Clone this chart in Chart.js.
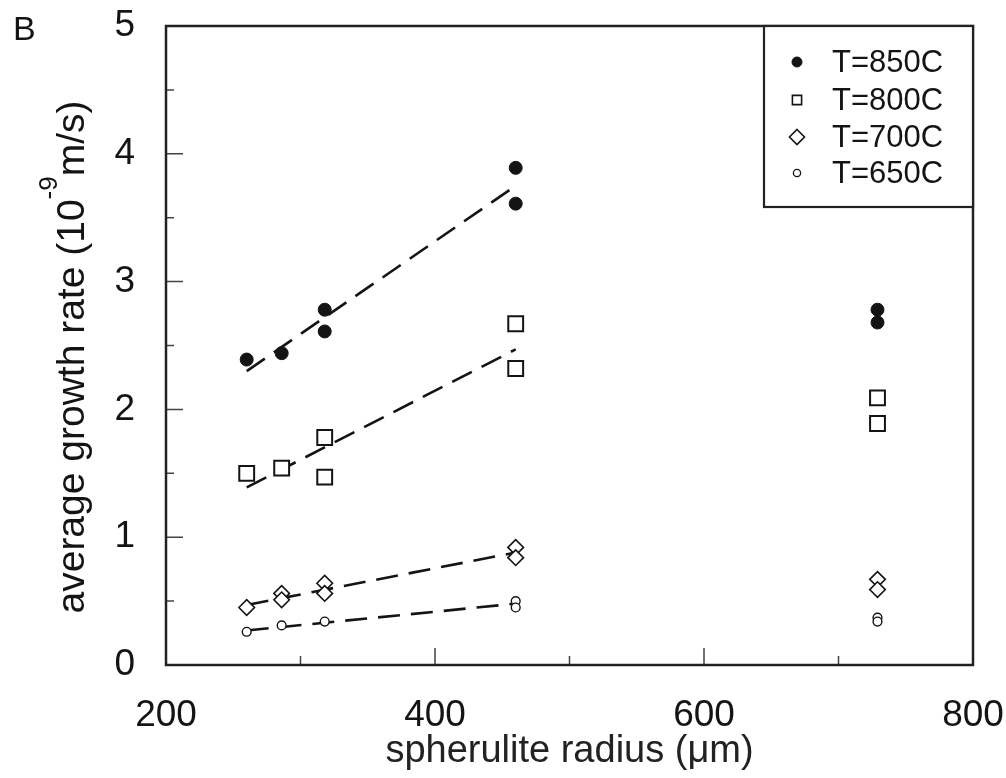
<!DOCTYPE html>
<html>
<head>
<meta charset="utf-8">
<script src="https://cdn.jsdelivr.net/npm/chart.js@4/dist/chart.umd.min.js"></script>
<style>
  html, body { margin: 0; padding: 0; background: #fff; }
  #wrap { width: 1006px; height: 778px; }
</style>
</head>
<body>
<div id="wrap"><canvas id="chart" width="1006" height="778"></canvas></div>
<script>
'use strict';

// data
const labels_T = ['T=850C', 'T=800C', 'T=700C', 'T=650C'];

const x_850 = [260, 286, 318, 318, 460, 460, 729, 729];
const y_850 = [2.39, 2.44, 2.78, 2.61, 3.89, 3.61, 2.78, 2.68];

const x_800 = [260, 286, 318, 318, 460, 460, 729, 729];
const y_800 = [1.50, 1.54, 1.78, 1.47, 2.67, 2.32, 2.09, 1.89];

const x_700 = [260, 286, 286, 318, 318, 460, 460, 729, 729];
const y_700 = [0.45, 0.56, 0.51, 0.64, 0.56, 0.92, 0.84, 0.67, 0.59];

const x_650 = [260, 286, 318, 460, 460, 729, 729];
const y_650 = [0.26, 0.31, 0.34, 0.50, 0.45, 0.37, 0.34];

// dashed fit lines
const fit_x = [260, 460];
const fit_850 = [2.30, 3.75];
const fit_800 = [1.39, 2.47];
const fit_700 = [0.47, 0.88];
const fit_650 = [0.27, 0.48];

const FONT = '"Liberation Sans", Arial, sans-serif';
const INK = '#141414';

function pts(xs, ys){
    var out = [];
    for( var i = 0 ; i < xs.length ; i++ ) out.push({ x: xs[i], y: ys[i] });
    return out;
}

function marker(label, xs, ys, style, radius, filled, bw){
    return {
        label: label,
        data: pts(xs, ys),
        pointStyle: style,
        pointRadius: radius,
        pointBorderWidth: bw,
        pointBorderColor: INK,
        pointBackgroundColor: filled ? INK : '#fff',
        showLine: false,
        order: 0,
    };
}

function fitline(ys){
    return {
        type: 'line',
        data: pts(fit_x, ys),
        borderColor: INK,
        borderWidth: 2.6,
        borderDash: [22, 11],
        pointRadius: 0,
        showLine: true,
        fill: false,
        order: 1,
    };
}

// small legend symbols
const legend_marks = [
    { style: 'circle', r: 5, filled: true, bw: 1 },
    { style: 'rect', r: 6.5, filled: false, bw: 1.6 },
    { style: 'rectRot', r: 7.5, filled: false, bw: 1.6 },
    { style: 'circle', r: 3.6, filled: false, bw: 1.3 },
];

function drawMark(ctx, m, x, y){
    ctx.save();
    ctx.lineWidth = m.bw;
    ctx.strokeStyle = INK;
    ctx.fillStyle = m.filled ? INK : '#fff';
    ctx.beginPath();
    if( m.style == 'circle' ){
        ctx.arc(x, y, m.r, 0, Math.PI * 2);
    }else if( m.style == 'rect' ){
        var s = m.r * Math.SQRT1_2;
        ctx.rect(x - s, y - s, 2 * s, 2 * s);
    }else{
        ctx.moveTo(x, y - m.r);
        ctx.lineTo(x + m.r, y);
        ctx.lineTo(x, y + m.r);
        ctx.lineTo(x - m.r, y);
        ctx.closePath();
    }
    ctx.fill();
    ctx.stroke();
    ctx.restore();
}

const framePlugin = {
    id: 'frame',
    afterDatasetsDraw: function(chart){
        const ctx = chart.ctx;
        const a = chart.chartArea;
        const xs = chart.scales.x;
        const ys = chart.scales.y;
        ctx.save();

        // inward ticks
        ctx.strokeStyle = '#444';
        ctx.lineWidth = 1.5;
        ctx.beginPath();
        for( var v = 300 ; v < 800 ; v += 100 ){
            var px = xs.getPixelForValue(v);
            var len = (v % 200 == 0) ? 17 : 9;
            ctx.moveTo(px, a.bottom);
            ctx.lineTo(px, a.bottom - len);
        }
        for( var k = 1 ; k < 10 ; k++ ){
            var val = k / 2;
            var py = ys.getPixelForValue(val);
            var ln = (k % 2 == 0) ? 17 : 8;
            ctx.moveTo(a.left, py);
            ctx.lineTo(a.left + ln, py);
        }
        ctx.stroke();

        // plot frame
        ctx.strokeStyle = '#222';
        ctx.lineWidth = 2.5;
        ctx.strokeRect(a.left, a.top, a.right - a.left, a.bottom - a.top);

        // legend box in the upper right corner
        const bx = 764, by = a.top, bw = a.right - 764, bh = 181;
        ctx.fillStyle = '#fff';
        ctx.fillRect(bx, by, bw, bh);
        ctx.lineWidth = 2.2;
        ctx.strokeRect(bx, by, bw, bh);
        const rows = [62, 100, 137, 173];
        ctx.font = '31px ' + FONT;
        ctx.fillStyle = INK;
        ctx.textAlign = 'left';
        ctx.textBaseline = 'middle';
        for( var i = 0 ; i < labels_T.length ; i++ ){
            drawMark(ctx, legend_marks[i], 797, rows[i]);
            ctx.fillStyle = INK;
            ctx.fillText(labels_T[i], 832, rows[i] + 1);
        }

        // panel letter
        ctx.font = '34px ' + FONT;
        ctx.textBaseline = 'alphabetic';
        ctx.fillText('B', 13, 40);

        // y axis title with superscript
        ctx.save();
        ctx.translate(84, 357);
        ctx.rotate(-Math.PI / 2);
        const big = '39px ' + FONT, small = '26px ' + FONT;
        const p1 = 'average growth rate (10', p2 = '-9', p3 = 'm/s)';
        ctx.font = big; var w1 = ctx.measureText(p1).width, w3 = ctx.measureText(p3).width;
        ctx.font = small; var w2 = ctx.measureText(p2).width;
        var x0 = -(w1 + w2 + w3) / 2;
        ctx.font = big; ctx.fillText(p1, x0, 0);
        ctx.font = small; ctx.fillText(p2, x0 + w1, -27);
        ctx.font = big; ctx.fillText(p3, x0 + w1 + w2, 0);
        ctx.restore();

        ctx.restore();
    }
};

const ctx = document.getElementById('chart').getContext('2d');
window.chart = new Chart(ctx, {
    type: 'scatter',
    data: {
        datasets: [
            marker(labels_T[0], x_850, y_850, 'circle', 6.5, true, 1),
            marker(labels_T[1], x_800, y_800, 'rect', 10.5, false, 2),
            marker(labels_T[2], x_700, y_700, 'rectRot', 7.8, false, 1.6),
            marker(labels_T[3], x_650, y_650, 'circle', 4.4, false, 1.4),
            fitline(fit_850),
            fitline(fit_800),
            fitline(fit_700),
            fitline(fit_650),
        ],
    },
    options: {
        responsive: false,
        animation: false,
        layout: { autoPadding: false, padding: { top: 26, right: 33, left: 0, bottom: 0 } },
        plugins: {
            legend: { display: false },
            tooltip: { enabled: false },
        },
        scales: {
            x: {
                type: 'linear',
                min: 200,
                max: 800,
                grid: { display: false },
                border: { display: false },
                ticks: {
                    stepSize: 200,
                    padding: 21,
                    color: INK,
                    font: { family: FONT, size: 37 },
                },
                title: {
                    display: true,
                    text: 'spherulite radius (\u03bcm)',
                    color: '#222',
                    font: { family: FONT, size: 38 },
                    padding: { top: 0, bottom: 4 },
                },
                afterFit: function(scale){
                    scale.height = 113;
                    scale.paddingLeft = 0;
                    scale.paddingRight = 0;
                },
            },
            y: {
                type: 'linear',
                min: 0,
                max: 5,
                grid: { display: false },
                border: { display: false },
                ticks: {
                    stepSize: 1,
                    padding: 23,
                    color: INK,
                    font: { family: FONT, size: 37 },
                },
                afterFit: function(scale){
                    scale.width = 166;
                    scale.paddingTop = 0;
                    scale.paddingBottom = 0;
                },
            },
        },
    },
    plugins: [framePlugin],
});
</script>
</body>
</html>
